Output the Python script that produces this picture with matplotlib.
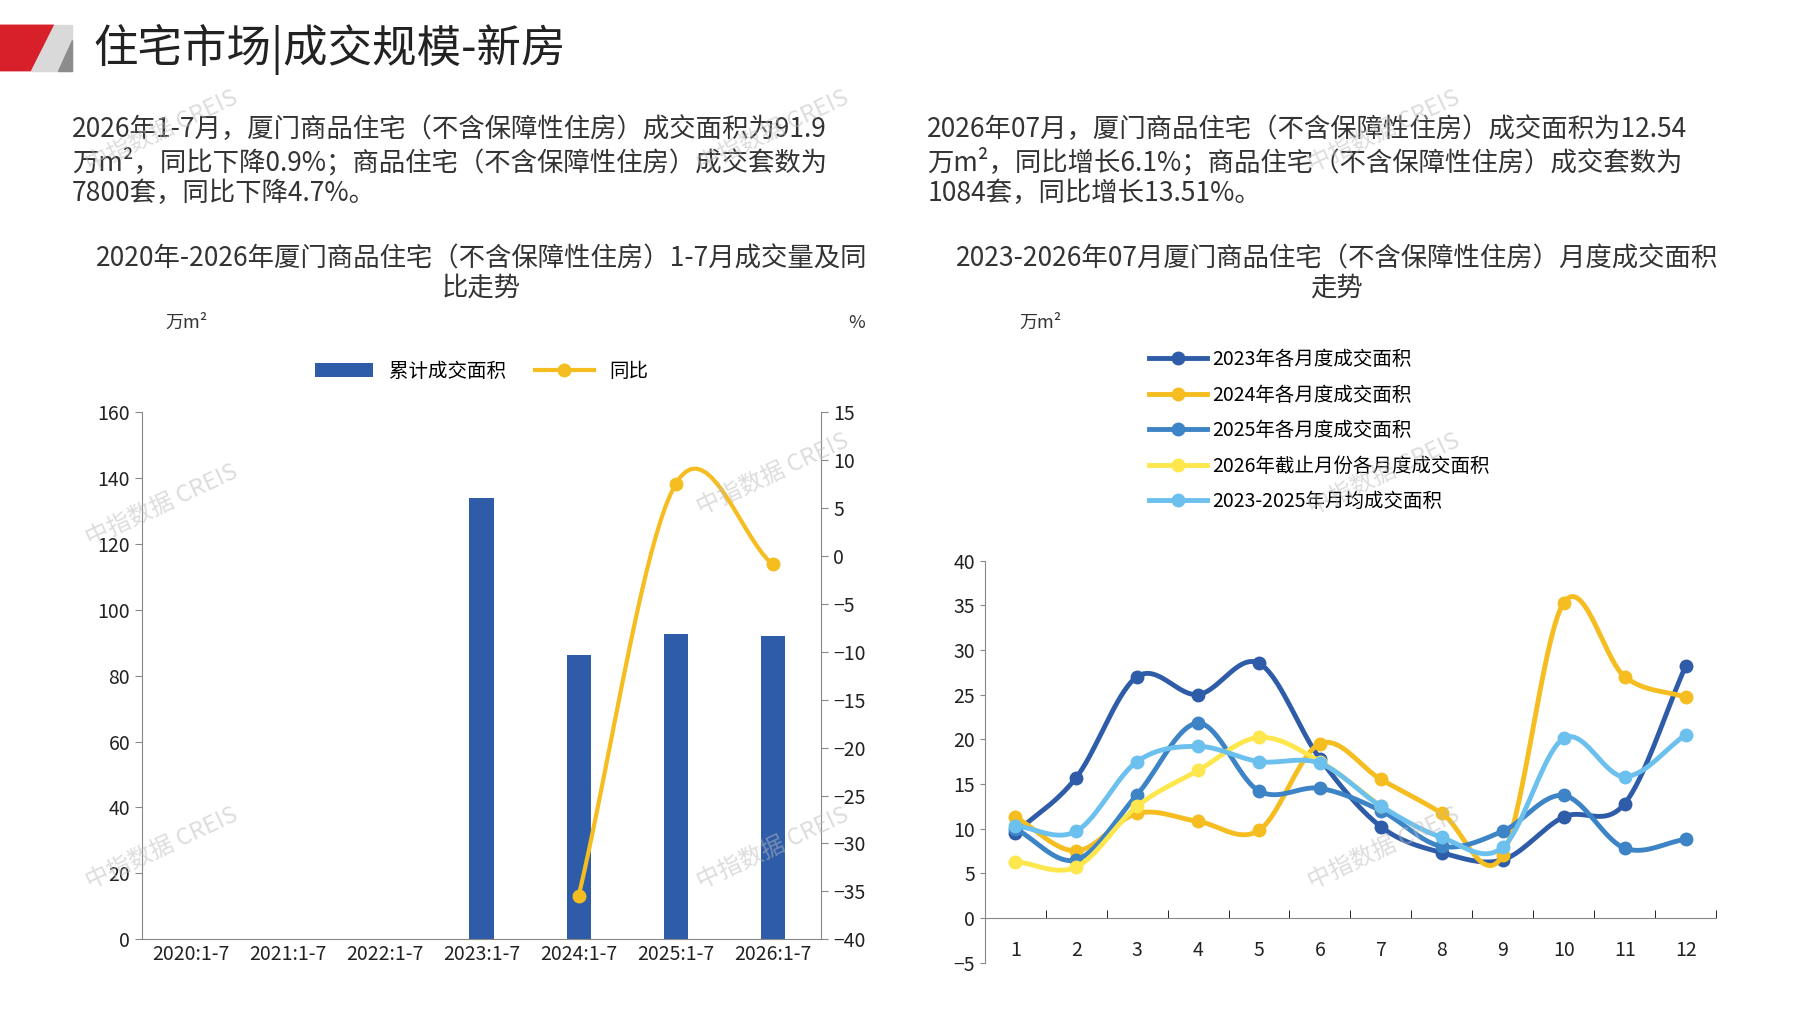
import numpy as np
import matplotlib.pyplot as plt
from matplotlib.patches import Polygon

plt.rcParams['font.family'] = ['Noto Sans CJK SC', 'DejaVu Sans']

years = ['2020:1-7', '2021:1-7', '2022:1-7', '2023:1-7', '2024:1-7', '2025:1-7', '2026:1-7']
area = [0, 0, 0, 134.0, 86.2, 92.7, 91.9]
yoy = [None, None, None, None, -35.5, 7.5, -0.9]

months = list(range(1, 13))
s2023 = [9.5, 15.7, 27.0, 25.0, 28.5, 17.8, 10.2, 7.3, 6.5, 11.3, 12.8, 28.2]
s2024 = [11.3, 7.5, 11.7, 10.8, 9.8, 19.5, 15.5, 11.7, 7.0, 35.3, 27.0, 24.7]
s2025 = [10.0, 6.5, 13.8, 21.8, 14.2, 14.5, 12.0, 8.0, 9.7, 13.7, 7.8, 8.8]
s2026 = [6.3, 5.7, 12.5, 16.5, 20.2, 17.5, 12.5]
savg = [10.3, 9.7, 17.5, 19.2, 17.5, 17.3, 12.5, 9.0, 7.9, 20.1, 15.8, 20.5]


def smooth(x, y, n=20):
    # catmull-rom curve through the points, like Excel smoothed lines
    x = np.asarray(x, float); y = np.asarray(y, float)
    px = np.concatenate([[2 * x[0] - x[1]], x, [2 * x[-1] - x[-2]]])
    py = np.concatenate([[2 * y[0] - y[1]], y, [2 * y[-1] - y[-2]]])
    xs, ys = [], []
    t = np.linspace(0, 1, n)
    for i in range(1, len(px) - 2):
        for p, out in ((px, xs), (py, ys)):
            p0, p1, p2, p3 = p[i - 1], p[i], p[i + 1], p[i + 2]
            out.extend(0.5 * (2 * p1 + (-p0 + p2) * t + (2 * p0 - 5 * p1 + 4 * p2 - p3) * t ** 2
                              + (-p0 + 3 * p1 - 3 * p2 + p3) * t ** 3))
    return xs, ys


fig = plt.figure(figsize=(17.97, 10.1), dpi=100)
tc = '#333333'

# header
fig.patches.append(Polygon([[0, 0.93], [0.017, 0.93], [0.03, 0.975], [0.0, 0.975]], closed=True,
                           transform=fig.transFigure, color='#d7202a'))
fig.patches.append(Polygon([[0.017, 0.93], [0.04, 0.93], [0.04, 0.975], [0.03, 0.975]], closed=True,
                           transform=fig.transFigure, color='#d9d9d9'))
fig.patches.append(Polygon([[0.032, 0.93], [0.04, 0.93], [0.04, 0.96]], closed=True,
                           transform=fig.transFigure, color='#8c8c8c'))
fig.text(0.052, 0.951, '住宅市场|成交规模-新房', fontsize=32, color='#222222', va='center')

fig.text(0.040, 0.885, '2026年1-7月，厦门商品住宅（不含保障性住房）成交面积为91.9\n万m²，同比下降0.9%；商品住宅（不含保障性住房）成交套数为\n7800套，同比下降4.7%。',
         fontsize=19, color=tc, va='top', linespacing=1.2)
fig.text(0.516, 0.885, '2026年07月，厦门商品住宅（不含保障性住房）成交面积为12.54\n万m²，同比增长6.1%；商品住宅（不含保障性住房）成交套数为\n1084套，同比增长13.51%。',
         fontsize=19, color=tc, va='top', linespacing=1.2)

fig.text(0.268, 0.757, '2020年-2026年厦门商品住宅（不含保障性住房）1-7月成交量及同\n比走势',
         fontsize=19, color=tc, ha='center', va='top', linespacing=1.1)
fig.text(0.744, 0.757, '2023-2026年07月厦门商品住宅（不含保障性住房）月度成交面积\n走势',
         fontsize=19, color=tc, ha='center', va='top', linespacing=1.1)
fig.text(0.092, 0.675, '万m²', fontsize=13, color=tc)
fig.text(0.472, 0.675, '%', fontsize=13, color=tc)
fig.text(0.567, 0.675, '万m²', fontsize=13, color=tc)

# left chart
ax = fig.add_axes([0.079, 0.07, 0.378, 0.522])
xi = np.arange(len(years))
ax.bar(xi, area, width=0.25, color='#2e5ca8', label='累计成交面积')
ax.set_ylim(0, 160)
ax.set_yticks(range(0, 161, 20))
ax.set_xlim(-0.5, len(years) - 0.5)
ax.set_xticks(xi)
ax.set_xticklabels(years)
ax2 = ax.twinx()
yx = [i for i, v in enumerate(yoy) if v is not None]
yv = [v for v in yoy if v is not None]
sx, sy = smooth(yx, yv)
ax2.plot(sx, sy, color='#f5bd1f', lw=3)
ax2.plot(yx, yv, 'o', color='#f5bd1f', ms=9)
ax2.set_ylim(-40, 15)
ax2.set_yticks(range(-40, 16, 5))
for a in (ax, ax2):
    a.spines['top'].set_visible(False)
    a.tick_params(labelsize=14, colors='#222222', length=5, color='#888888')
    for s in a.spines.values():
        s.set_color('#888888')
ax.spines['right'].set_visible(False)
ax2.spines['left'].set_visible(False)
ax2.spines['bottom'].set_visible(False)
ax.tick_params(axis='x', length=0)
h1 = ax.bar([0], [0], color='#2e5ca8')
h2, = ax.plot([], [], '-o', color='#f5bd1f', lw=3, ms=9)
ax.legend([h1, h2], ['累计成交面积', '同比'], loc='upper center', bbox_to_anchor=(0.5, 1.13),
          ncol=2, frameon=False, fontsize=14, handlelength=3, columnspacing=1.5)

# right chart
ax3 = fig.add_axes([0.548, 0.047, 0.407, 0.398])
series = [(s2023, '#2e5ca8', '2023年各月度成交面积'),
          (s2024, '#f5bd1f', '2024年各月度成交面积'),
          (s2025, '#3d84c6', '2025年各月度成交面积'),
          (s2026, '#fde74c', '2026年截止月份各月度成交面积'),
          (savg, '#6cc0ee', '2023-2025年月均成交面积')]
handles = []
for vals, c, lab in series:
    m = months[:len(vals)]
    sx, sy = smooth(m, vals)
    ax3.plot(sx, sy, color=c, lw=3.5)
    ax3.plot(m, vals, 'o', color=c, ms=9)
    h, = ax3.plot([], [], '-o', color=c, lw=3.5, ms=9)
    handles.append(h)
ax3.set_xlim(0.5, 12.5)
ax3.set_ylim(-5, 40)
ax3.set_yticks(range(-5, 41, 5))
ax3.set_xticks(months)
ax3.set_xticks(np.arange(0.5, 12.6, 1), minor=True)
ax3.spines['bottom'].set_position(('data', 0))
for s in ('top', 'right'):
    ax3.spines[s].set_visible(False)
for s in ('left', 'bottom'):
    ax3.spines[s].set_color('#888888')
ax3.tick_params(labelsize=14, colors='#222222', color='#888888')
ax3.tick_params(axis='x', which='major', length=0, pad=16)
ax3.tick_params(axis='x', which='minor', length=6, direction='in')
ax3.legend(handles, [s[2] for s in series], loc='upper left', bbox_to_anchor=(0.2, 1.57),
           frameon=False, fontsize=14, handlelength=3, labelspacing=0.75, handletextpad=0.3)

# watermarks
for (x, y) in [(0.04, 0.50), (0.38, 0.53), (0.72, 0.87), (0.04, 0.16), (0.38, 0.16), (0.72, 0.16), (0.04, 0.87), (0.38, 0.87), (0.72, 0.53)]:
    fig.text(x + 0.05, y, '中指数据 CREIS', fontsize=17, color='#bbbbbb', alpha=0.5, rotation=25,
             ha='center', va='center')

fig.savefig('out.png', dpi=100, facecolor='white')
